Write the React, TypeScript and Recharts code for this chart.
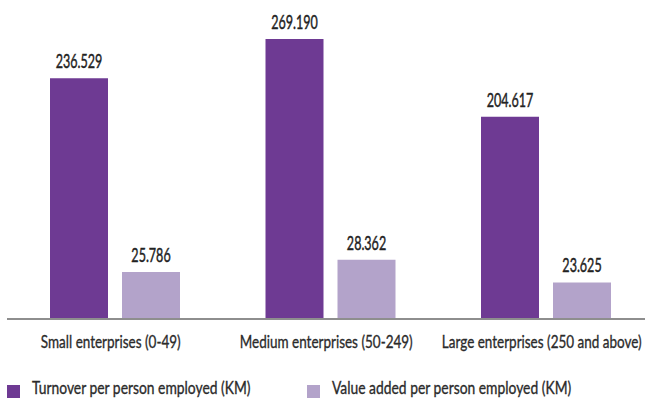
import { BarChart, Bar, XAxis, YAxis, LabelList } from "recharts";

const categories = [
  "Small enterprises (0-49)",
  "Medium enterprises (50-249)",
  "Large enterprises (250 and above)",
];
const turnover = [236.529, 269.19, 204.617];
const valueAdded = [25.786, 28.362, 23.625];

const SERIES = [
  { key: "turnover", name: "Turnover per person employed (KM)", color: "#6E3A93", axis: "left" },
  { key: "valueAdded", name: "Value added per person employed (KM)", color: "#B3A3CA", axis: "right" },
];

const data = categories.map((name, i) => ({
  name,
  turnover: turnover[i],
  valueAdded: valueAdded[i],
}));

// reference uses a condensed humanist face; squeeze Lato horizontally
const FONT = "Lato, 'DejaVu Sans', sans-serif";
const TICK_SQUEEZE = 0.75;
const VALUE_SQUEEZE = 0.66;
const LEGEND_SQUEEZE = 0.77;
const TEXT = "#2b2b2b";
const fmt = (v: number) => v.toFixed(3);

function CategoryTick(props: any) {
  const { x, y, payload } = props;
  return (
    <g transform={`translate(${x - 4},${y})`}>
      <text
        transform={`scale(${TICK_SQUEEZE},1)`}
        textAnchor="middle"
        dy={21}
        fontSize={18}
        fontFamily={FONT}
        fill={TEXT}
        stroke={TEXT}
        strokeWidth={0.35}
      >
        {payload.value}
      </text>
    </g>
  );
}

function ValueLabel(props: any) {
  const { x, y, width, value } = props;
  return (
    <g transform={`translate(${x + width / 2},${y - 10})`}>
      <text
        transform={`scale(${VALUE_SQUEEZE},1)`}
        textAnchor="middle"
        fontSize={19}
        fontFamily={FONT}
        fill="#222"
        stroke="#222"
        strokeWidth={0.45}
      >
        {fmt(value as number)}
      </text>
    </g>
  );
}

export default function App() {
  return (
    <div style={{ position: "relative", width: 649, height: 398, background: "#fff", fontFamily: FONT }}>
      <style>{"body{margin:0}"}</style>
      <BarChart
        width={649}
        height={398}
        data={data}
        barSize={58}
        barGap={14}
        margin={{ top: 30, right: 4, left: 7, bottom: 0 }}
      >
        <XAxis
          dataKey="name"
          height={79}
          padding={{ left: 0, right: -8.5 }}
          tickLine={false}
          axisLine={{ stroke: "#8E8E8E", strokeWidth: 2 }}
          tick={<CategoryTick />}
          interval={0}
        />
        <YAxis yAxisId="left" hide domain={[37.1, 276.6]} allowDataOverflow />
        <YAxis yAxisId="right" hide domain={[16.0, 76.2]} allowDataOverflow />
        {SERIES.map((s) => (
          <Bar key={s.key} dataKey={s.key} name={s.name} yAxisId={s.axis} fill={s.color} isAnimationActive={false}>
            <LabelList dataKey={s.key} content={<ValueLabel />} />
          </Bar>
        ))}
      </BarChart>
      {SERIES.map((s, i) => (
        <div
          key={s.key}
          style={{
            position: "absolute",
            left: i === 0 ? 7 : 307,
            top: 375,
            height: 24,
            display: "flex",
            alignItems: "center",
            fontSize: 18,
            color: TEXT,
            whiteSpace: "nowrap",
            WebkitTextStroke: "0.35px " + TEXT,
          }}
        >
          <span style={{ display: "inline-block", width: 13, height: 13, background: s.color, marginRight: 12, marginTop: 8 }} />
          <span style={{ display: "inline-block", transform: `scaleX(${LEGEND_SQUEEZE})`, transformOrigin: "left center" }}>
            {s.name}
          </span>
        </div>
      ))}
    </div>
  );
}
